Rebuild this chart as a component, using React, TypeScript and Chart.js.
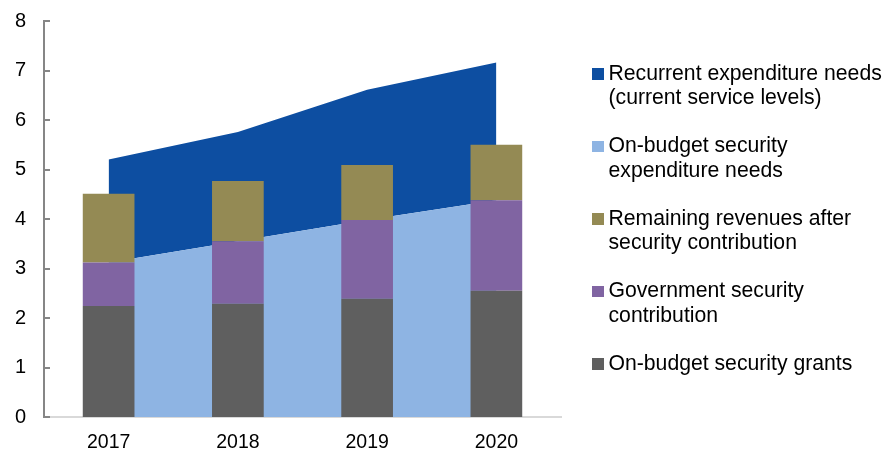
import React, { useEffect, useRef } from "react";
import { Chart, registerables } from "chart.js";

Chart.register(...registerables);

const years = ["2017", "2018", "2019", "2020"];
const securityGrants = [2.24, 2.29, 2.39, 2.55];
const governmentContribution = [0.88, 1.26, 1.59, 1.83];
const remainingRevenues = [1.39, 1.22, 1.11, 1.12];
const securityExpenditureNeeds = [3.12, 3.55, 3.98, 4.38];
const recurrentExpenditureNeeds = [5.2, 5.76, 6.61, 7.16];
const yTicks = [0, 1, 2, 3, 4, 5, 6, 7, 8];

const FONT = '"Liberation Sans", Arial, sans-serif';

const colors = {
  grants: "#5f5f5f",
  gov: "#8064a2",
  remaining: "#948a54",
  light: "#8eb4e3",
  dark: "#0d4ea1",
};

const legendItems = [
  { color: colors.dark, lines: ["Recurrent expenditure needs", "(current service levels)"] },
  { color: colors.light, lines: ["On-budget security", "expenditure needs"] },
  { color: colors.remaining, lines: ["Remaining revenues after", "security contribution"] },
  { color: colors.gov, lines: ["Government security", "contribution"] },
  { color: colors.grants, lines: ["On-budget security grants"] },
];

const innerTicks = {
  id: "innerTicks",
  afterDraw(chart: any) {
    const y = chart.scales.y;
    const ctx = chart.ctx;
    ctx.save();
    ctx.strokeStyle = "#868686";
    ctx.lineWidth = 2;
    for (const v of yTicks) {
      const py = Math.round(y.getPixelForValue(v));
      ctx.beginPath();
      ctx.moveTo(chart.chartArea.left, py);
      ctx.lineTo(chart.chartArea.left + 6, py);
      ctx.stroke();
    }
    ctx.restore();
  },
};

export default function App() {
  const ref = useRef<HTMLCanvasElement>(null);
  useEffect(() => {
    if (!ref.current) return;
    const chart = new Chart(ref.current, {
      type: "bar",
      data: {
        labels: years,
        datasets: [
          { type: "bar", label: "On-budget security grants", data: securityGrants, backgroundColor: colors.grants, stack: "bars", order: 0 },
          { type: "bar", label: "Government security contribution", data: governmentContribution, backgroundColor: colors.gov, stack: "bars", order: 0 },
          { type: "bar", label: "Remaining revenues after security contribution", data: remainingRevenues, backgroundColor: colors.remaining, stack: "bars", order: 0 },
          {
            type: "line", label: "On-budget security expenditure needs", data: securityExpenditureNeeds,
            backgroundColor: colors.light, borderColor: colors.light, borderWidth: 0, pointRadius: 0,
            fill: "origin", stack: "light", order: 1, tension: 0,
          },
          {
            type: "line", label: "Recurrent expenditure needs (current service levels)", data: recurrentExpenditureNeeds,
            backgroundColor: colors.dark, borderColor: colors.dark, borderWidth: 0, pointRadius: 0,
            fill: "-1", stack: "dark", order: 1, tension: 0,
          },
        ] as any,
      },
      options: {
        responsive: false,
        animation: false,
        maintainAspectRatio: false,
        layout: { padding: { top: 21, right: 322, left: 0, bottom: 0 } },
        datasets: { bar: { categoryPercentage: 1, barPercentage: 0.4 } } as any,
        plugins: { legend: { display: false }, tooltip: { enabled: false } },
        scales: {
          x: {
            stacked: true,
            grid: { display: false, drawTicks: false },
            border: { display: true, color: "#d9d9d9", width: 2 },
            ticks: { color: "#000", font: { family: FONT, size: 19.5 }, padding: 14 },
            afterFit: (axis: any) => { axis.height = 35; },
          },
          y: {
            stacked: true,
            min: 0,
            max: 8,
            grid: { display: false, drawTicks: false },
            border: { display: true, color: "#868686", width: 2 },
            ticks: { stepSize: 1, color: "#000", font: { family: FONT, size: 20 }, padding: 18 },
            afterFit: (axis: any) => {
              axis.width = 44;
              axis.paddingTop = 0;
              axis.paddingBottom = 0;
            },
          },
        },
      },
      plugins: [innerTicks],
    });
    return () => chart.destroy();
  }, []);

  return (
    <div style={{ position: "fixed", left: 0, top: 0, width: 883, height: 452, background: "#fff", overflow: "hidden" }}>
      <canvas ref={ref} width={883} height={452} style={{ position: "absolute", left: 0, top: 0 }} />
      {legendItems.map((item, k) => (
        <div
          key={k}
          style={{
            position: "absolute",
            left: 592,
            top: 60.5 + k * 72.5,
            fontFamily: FONT,
            fontSize: 21.2,
            lineHeight: "24.5px",
            color: "#000",
            whiteSpace: "nowrap",
          }}
        >
          <div style={{ position: "absolute", left: 0, top: 7.5, width: 11.5, height: 11.5, background: item.color }} />
          <div style={{ marginLeft: 16.5 }}>
            {item.lines.map((l, i) => (
              <div key={i}>{l}</div>
            ))}
          </div>
        </div>
      ))}
    </div>
  );
}
